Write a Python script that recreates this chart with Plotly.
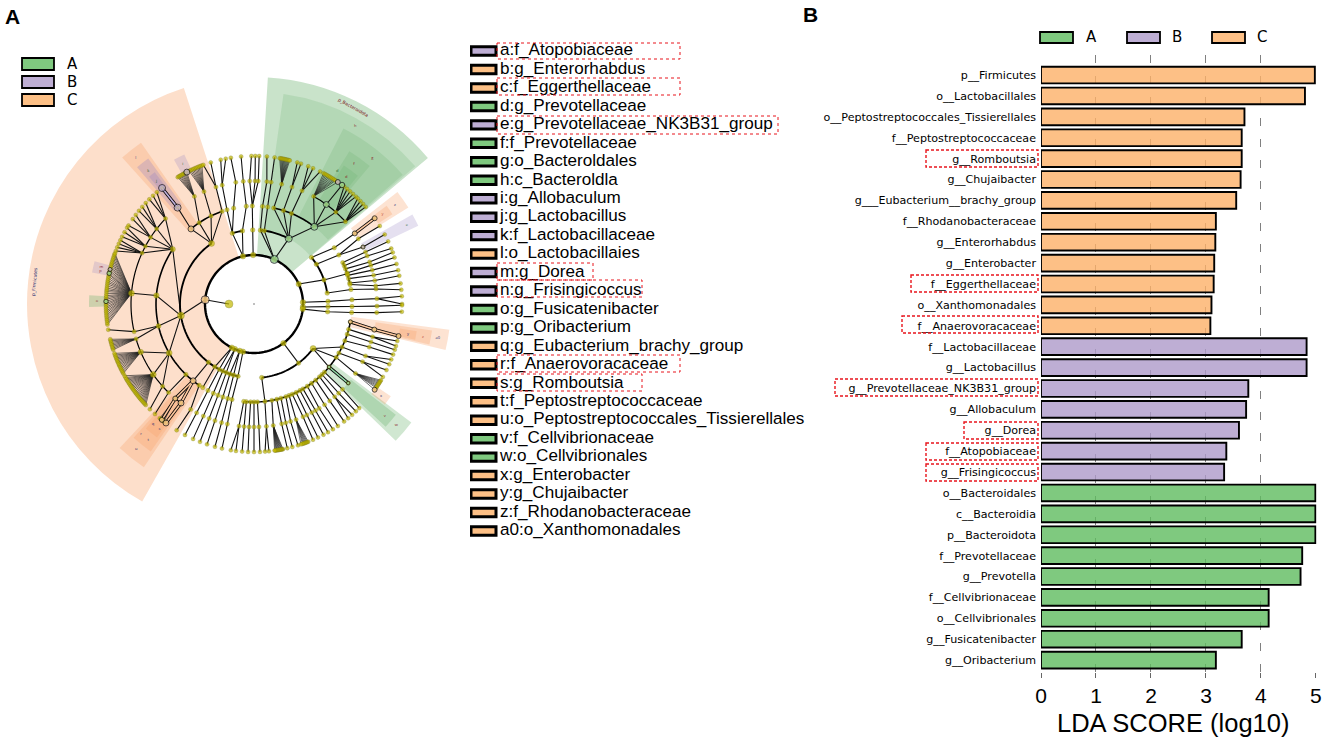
import numpy as np
import plotly.graph_objects as go

W, H = 1325, 741
COLORS = {"A": "#7fc97f", "B": "#beaed4", "C": "#fdc086"}
NODE_HL = {"A": "#93d8a6", "B": "#c3b3e0", "C": "#ffc9a0"}

# ---------- LDA bars ----------
bar_labels = ["p__Firmicutes", "o__Lactobacillales", "o__Peptostreptococcales_Tissierellales",
              "f__Peptostreptococcaceae", "g__Romboutsia", "g__Chujaibacter",
              "g___Eubacterium__brachy_group", "f__Rhodanobacteraceae", "g__Enterorhabdus",
              "g__Enterobacter", "f__Eggerthellaceae", "o__Xanthomonadales", "f__Anaerovoracaceae",
              "f__Lactobacillaceae", "g__Lactobacillus", "g__Prevotellaceae_NK3B31_group",
              "g__Allobaculum", "g__Dorea", "f__Atopobiaceae", "g__Frisingicoccus",
              "o__Bacteroidales", "c__Bacteroidia", "p__Bacteroidota", "f__Prevotellaceae",
              "g__Prevotella", "f__Cellvibrionaceae", "o__Cellvibrionales",
              "g__Fusicatenibacter", "g__Oribacterium"]
bar_values = [4.98, 4.80, 3.70, 3.65, 3.65, 3.63, 3.55, 3.18, 3.17, 3.15, 3.14, 3.10, 3.08,
              4.83, 4.83, 3.77, 3.73, 3.60, 3.37, 3.33,
              4.99, 4.99, 4.99, 4.75, 4.72, 4.14, 4.14, 3.65, 3.18]
bar_groups = ["C"] * 13 + ["B"] * 7 + ["A"] * 9
x_ticks = [0, 1, 2, 3, 4, 5]

# ---------- taxa key ----------
key_labels = ["a:f_Atopobiaceae", "b:g_Enterorhabdus", "c:f_Eggerthellaceae", "d:g_Prevotellaceae",
              "e:g_Prevotellaceae_NK3B31_group", "f:f_Prevotellaceae", "g:o_Bacteroldales",
              "h:c_Bacteroldla", "i:g_Allobaculum", "j:g_Lactobacillus", "k:f_Lactobacillaceae",
              "l:o_Lactobacillaies", "m:g_Dorea", "n:g_Frisingicoccus", "o:g_Fusicatenibacter",
              "p:g_Oribacterium", "q:g_Eubacterium_brachy_group", "r:f_Anaerovoracaceae",
              "s:g_Romboutsia", "t:f_Peptostreptococcaceae",
              "u:o_Peptostreptococcales_Tissierellales", "v:f_Cellvibrionaceae",
              "w:o_Cellvibrionales", "x:g_Enterobacter", "y:g_Chujaibacter",
              "z:f_Rhodanobacteraceae", "a0:o_Xanthomonadales"]
key_groups = list("BCCABAAABBBCBBAACCCCCAACCCC")

# ---------- cladogram: levels and tree, angles in degrees clockwise from north ----------
level_radius = {1: 25, 2: 49, 3: 74, 4: 98, 5: 123, 6: 148}
level_node_size = {1: 8, 2: 5.5, 3: 4.6, 4: 4.4, 5: 4.2, 6: 4}

# (first level, angles at successive levels)
chains = [
    (1, [270, 275]), (2, [275, 261]),
    # north
    (2, [359, 359, 359, 0.5, 0.5]), (4, [359, 358, 359]), (4, [359, 2, 2]),
    (2, [347, 351, 355.5, 355, 355]), (2, [347, 343, 348, 351.5, 351]),
    (3, [343, 344, 345, 347]), (5, [345, 349]),
    # orange, upper
    (3, [325, 326, 331]), (3, [325, 320, 321.6, 321.6]), (3, [325, 334, 336]),
    (3, [325, 341, 342, 343]), (5, [342, 340]),
    (3, [261, 304, 294.5]), (4, [304, 298]), (4, [304, 302.8]), (4, [304, 307.7]), (4, [304, 314]),
    (5, [314, 315]), (5, [314, 317]), (5, [314, 319]),
    (5, [307.7, 309]), (5, [307.7, 311]), (5, [307.7, 313]),
    (5, [302.8, 302]), (5, [302.8, 305]), (5, [302.8, 307]),
    (5, [298, 297]), (5, [298, 299]), (5, [298, 301]),
    (5, [294.5, 291]), (5, [294.5, 292.5]), (5, [294.5, 294]), (5, [294.5, 295.5]),
    # orange, left
    (3, [261, 275, 275]), (3, [261, 257, 257, 260]), (3, [261, 240, 247]),
    (4, [257, 253.5]), (4, [240, 235]), (4, [240, 228, 224.7]), (4, [224, 224, 222]),
    (3, [218, 218.4, 216.4, 216.5]), (4, [218.4, 219.8, 218.5]), (4, [214, 211, 211.5]),
    # green
    (2, [24.5, 5, 5, 6, 5]), (2, [24.5, 8, 8, 8, 8]),
    (2, [24.5, 28, 11.6, 13]), (3, [28, 17.5, 18, 17]), (5, [18, 18.5]),
    (3, [28, 22.5, 23, 21.5]), (5, [23, 23.5]), (5, [23, 26.5]),
    (3, [28, 38, 29]), (4, [38, 36, 36.5]), (4, [38, 41.7]), (4, [38, 48]),
    (5, [41.7, 37.5]), (5, [41.7, 39]), (5, [41.7, 40.5]), (5, [41.7, 42]), (5, [41.7, 43.5]),
    (5, [48, 44.5]), (5, [48, 46]), (5, [48, 47.5]), (5, [48, 49]),
    # right, upper
    (2, [66, 71, 72]), (3, [51, 55, 55, 54.6]), (3, [57.5, 60, 62.4, 62]), (4, [60, 58, 58.2]),
    (4, [65, 65, 65]), (4, [67, 67, 68]), (4, [69, 70, 69.6]), (4, [71.5, 71.7, 71.7]),
    (4, [73, 74, 74.3]), (4, [75, 76.5, 76.8]), (4, [77.6, 79, 79]), (4, [78.5, 81.5, 82]),
    (3, [81.5, 81.5, 83, 84.5]),
    # right
    (2, [88, 88, 87.5, 87.5, 87]), (5, [87.5, 90]),
    (2, [93.5, 92, 91.5, 91, 90.5]), (2, [96, 96, 95, 94, 93]),
    # bottom right
    (2, [143, 143]), (3, [127, 123, 124.4]), (3, [127, 130, 130]), (3, [127, 116, 115, 112]),
    (5, [115, 114]), (3, [174, 173.6, 174.2, 174.2]), (5, [174.2, 175.7]),
    (4, [100.5, 102, 102.5]), (4, [105, 105.5, 104.5]), (5, [105.5, 106.5]), (4, [108, 108, 108]),
    (4, [112, 110.5, 110]), (4, [120, 118, 116.5]), (5, [118, 119.5]),
    (4, [134, 134, 134.7]), (4, [136, 136.5, 136.5]), (4, [138, 139, 138.5]), (5, [139, 140.5]),
    (4, [141, 142, 142.5]), (4, [144, 145, 145.5]), (4, [147, 148, 147.8]), (4, [150, 150, 150]),
    (4, [152, 152, 152]), (4, [154.5, 154.5, 154.4]), (4, [157, 156.5, 156.5]), (4, [159, 160]),
    (4, [161, 162.7, 162.7]), (4, [164, 165, 165]), (4, [166.5, 167, 167]), (4, [169.5, 171]),
    (4, [178, 177.7, 177.7]), (4, [180, 180, 180]), (4, [182, 182.3, 182.3]),
    (4, [184.5, 184.6, 184.6]), (4, [186, 187, 187]), (5, [187, 189]),
    # bottom left
    (2, [193, 192.5, 193, 192.5, 192.5]), (2, [197, 196, 195.5, 195.3, 195.3]),
    (2, [197, 199, 198.5, 198.5, 198.5]), (2, [203, 202, 201.5, 201.4, 201.4]),
    (2, [203, 205, 204.5, 204.3, 204.3]), (2, [207, 208, 208, 207.8, 207.8]),
    (2, [207, 212, 211.5]),
]

# (parent level, parent angle, child angles)
fans = [
    (5, 13, [10, 10.4, 10.8, 11.2, 11.6, 12, 12.4, 12.8, 13.2, 13.6, 14]),
    (5, 29, [28, 28.6, 29.2, 29.8, 30.4, 31, 31.6, 32.2, 32.8, 33.4, 34.5]),
    (5, 331, [329, 329.5, 330, 330.5, 331, 331.5, 332, 332.5, 333]),
    (5, 336, [334, 334.6, 335.2, 335.8, 336.4, 337, 337.6, 338.2, 338.8, 339.4]),
    (5, 275, [262, 262.7, 263.5, 264.2, 265, 265.7, 266.5, 267.2, 268, 268.7, 269.5, 270.2,
              271, 271.8, 272.5, 273.2, 274, 274.8, 275.5, 276.2, 277, 277.8, 278.5, 279.2,
              280, 280.8, 281.5, 282, 282.8, 283.5, 284.3, 285, 285.8, 286.5, 287.3, 288,
              288.8, 289.5, 290]),
    (5, 253.5, [252, 252.6, 253.2, 253.8, 254.4, 255, 255.6, 256.2]),
    (5, 247, [242, 242.6, 243.2, 243.8, 244.4, 245, 245.6, 246.2, 246.8, 247.4, 248, 248.6,
              249.2, 249.8, 250.5]),
    (5, 235, [227, 227.6, 228.2, 228.8, 229.4, 230, 230.6, 231.2, 231.8, 232.4, 233, 233.6,
              234.2, 234.8, 235.4, 236, 236.6, 237.2, 237.8, 238.4, 239, 239.6, 240.2, 241]),
    (5, 219.8, [217.5, 217.9, 218.3, 218.7, 219.1, 219.5]),
    (5, 124.4, [121, 121.5, 122, 122.5, 123, 123.5, 124, 124.5, 125.4]),
    (5, 160, [158.5, 158.9, 159.3, 159.7, 160.1, 160.5, 160.9, 161.5]),
    (5, 171, [168.7, 169, 169.3, 169.6, 169.9, 170.2, 170.5, 170.8, 171.1, 171.4, 171.7, 172]),
]

# (level, start, end)
arcs = [
    (3, 127, 174), (3, 51, 81.5), (3, 212, 325), (3, 343, 351), (3, 5, 28), (3, 192.5, 212),
    (4, 100.5, 186), (4, 65, 78.5), (4, 214, 304), (4, 320, 341), (4, 11.6, 38),
    (5, 29, 48), (5, 224, 253.5), (5, 257, 294.5), (5, 294.5, 314), (5, 216.4, 219.8),
]

# (level, angle, size) for nodes larger than usual
large_nodes = [(3, 261, 7), (4, 275, 5.5), (5, 275, 6), (3, 325, 6), (4, 257, 5), (4, 240, 6),
               (5, 235, 6), (3, 127, 6), (2, 143, 5.5), (5, 247, 5.5), (4, 304, 5.2)]

# (level, angle, group, size) for enriched taxa
enriched_nodes = [
    (2, 24.5, "A", 8), (3, 28, "A", 7), (4, 38, "A", 7), (5, 36, "A", 6), (6, 36.5, "A", 5.5),
    (4, 130, "A", 3.5), (5, 130, "A", 3.5), (6, 282, "A", 4.5), (6, 271, "A", 4.5),
    (5, 321.6, "B", 7), (6, 321.6, "B", 7), (6, 333, "B", 6), (6, 34.5, "B", 5),
    (6, 283.5, "B", 4), (5, 62.4, "B", 4),
    (2, 275, "C", 8), (4, 320, "C", 6), (4, 218.4, "C", 6), (5, 216.4, "C", 6), (5, 219.8, "C", 5),
    (6, 216.5, "C", 6), (6, 218.5, "C", 5), (4, 100.5, "C", 4), (5, 102, "C", 5), (6, 102.5, "C", 5),
    (6, 125.4, "C", 5), (5, 55, "C", 5), (6, 54.6, "C", 5),
]

# (parent level, parent angle, child angle, group) for coloured branches
enriched_links = [
    (5, 321.6, 321.6, "B"), (4, 218.4, 216.4, "C"), (4, 218.4, 219.8, "C"), (5, 216.4, 216.5, "C"),
    (5, 219.8, 218.5, "C"), (4, 130, 130, "A"), (4, 100.5, 102, "C"), (5, 102, 102.5, "C"),
    (5, 55, 54.6, "C"),
]

sector_group = ["C", "A", "A", "A", "A", "A", "C", "B", "B", "B", "C", "C", "B", "C", "C", "C",
                "A", "A", "C", "C", "C", "A", "B", "C"]
sector_start = [209.5, 3.5, 8, 27, 32, 33, 318, 319.5, 320.5, 331, 52, 53.5, 60.5, 97.5, 98.5, 99.5,
                127, 128, 214, 215, 216, 269, 281, 124]
sector_end = [342, 50, 49.5, 49, 40, 39, 325, 324, 323, 335, 58, 57, 64.5, 103.5, 103, 102.5,
              134, 133, 223, 222, 221, 273, 285, 127.5]
sector_inner = [49, 49, 74, 98, 123, 148, 98, 123, 148, 148, 123, 148, 123, 98, 123, 148,
                98, 123, 98, 123, 148, 148, 148, 148]
sector_outer = [227, 227, 212, 197, 180, 165, 197, 180, 165, 165, 182, 165, 182, 197, 180, 165,
                197, 180, 197, 180, 165, 165, 165, 165]
sector_alpha = [.35, .35, .2, .2, .2, .2, .3, .3, .3, .25, .3, .3, .25, .3, .3, .3,
                .3, .3, .3, .3, .3, .3, .25, .3]

# tiny labels inside the sectors: (radius, angle, text, colour)
tiny_labels = [
    (205, 29.6, "h", "#8a1c2a"), (188, 39, "g", "#8a1c2a"), (172, 35.5, "f", "#8a1c2a"),
    (157, 32, "d", "#1d5c2a"), (157, 36, "d", "#8a1c2a"),
    (188, 321, "l", "#333a80"), (170, 321.6, "k", "#1d5c2a"), (157, 321.6, "j", "#1d5c2a"),
    (157, 333, "i", "#1d5c2a"), (172, 55, "z", "#333a80"), (157, 55, "y", "#c05040"),
    (172, 62.7, "e", "#1d5c2a"), (187, 100.5, "a0", "#1d2a70"), (172, 101, "z", "#c05040"),
    (157, 101, "y", "#1d2a70"), (157, 126, "x", "#1d2a70"), (187, 130.5, "w", "#8a1c2a"),
    (172, 130.5, "v", "#8a1c2a"), (187, 219, "u", "#1d2a70"), (172, 218, "t", "#1d2a70"),
    (172, 221, "r", "#1d2a70"), (157, 217, "s", "#1d2a70"), (157, 220, "q", "#1d2a70"),
    (157, 271, "o", "#8a1c2a"), (157, 282, "p", "#8a1c2a"), (157, 283.5, "m", "#8a1c2a"),
]


def px(x):
    return x / W


def py(y):
    return 1 - y / H


def R(level):
    return level_radius[level]


fig = go.Figure()

# sectors ---------------------------------------------------------------------
rgb = {"A": "100,175,104", "B": "150,130,195", "C": "249,163,106"}
fig.add_trace(go.Barpolar(
    r=[o - i for o, i in zip(sector_outer, sector_inner)],
    base=sector_inner,
    theta=[(a + b) / 2 for a, b in zip(sector_start, sector_end)],
    width=[b - a for a, b in zip(sector_start, sector_end)],
    marker=dict(color=[f"rgba({rgb[g]},{al})" for g, al in zip(sector_group, sector_alpha)],
                line=dict(width=0)),
    hoverinfo="skip", showlegend=False))

# branches --------------------------------------------------------------------
nodes = {(1, 270), (2, 275)}
cr, ct = [], []
for start, thetas in chains:
    for i, th in enumerate(thetas):
        lev = start + i
        cr.append(R(lev))
        ct.append(th)
        nodes.add((lev, th))
    cr.append(None)
    ct.append(None)
fig.add_trace(go.Scatterpolar(r=cr, theta=ct, mode="lines", line=dict(color="#111", width=1.1),
                              hoverinfo="skip", showlegend=False))

fr, ft = [], []
for lev, parent, kids in fans:
    nodes.add((lev, parent))
    for k in kids:
        fr += [R(lev), R(lev + 1), None]
        ft += [parent, k, None]
        nodes.add((lev + 1, k))
fig.add_trace(go.Scatterpolar(r=fr, theta=ft, mode="lines", line=dict(color="#222", width=0.65),
                              hoverinfo="skip", showlegend=False))

# arcs, thicker toward the centre
fig.add_trace(go.Scatterpolar(
    r=np.full(181, R(2)), theta=np.linspace(0, 360, 181), mode="lines",
    line=dict(color="#000", width=2.4), hoverinfo="skip", showlegend=False))
for lev, width in [(3, 1.9), (4, 1.6), (5, 1.2)]:
    ar, at = [], []
    for l, a, b in arcs:
        if l != lev:
            continue
        n = max(2, int(abs(b - a) / 2) + 2)
        at += list(np.linspace(a, b, n)) + [None]
        ar += [R(l)] * n + [None]
    fig.add_trace(go.Scatterpolar(r=ar, theta=at, mode="lines", line=dict(color="#000", width=width),
                                  hoverinfo="skip", showlegend=False))

# coloured branches
for g in "ABC":
    links = [k for k in enriched_links if k[3] == g]
    lr, lt = [], []
    for lev, a, b, _ in links:
        lr += [R(lev), R(lev + 1), None]
        lt += [a, b, None]
    fig.add_trace(go.Scatterpolar(r=lr, theta=lt, mode="lines", line=dict(color="#000", width=3.2),
                                  hoverinfo="skip", showlegend=False))
    fig.add_trace(go.Scatterpolar(r=lr, theta=lt, mode="lines", line=dict(color=NODE_HL[g], width=1.6),
                                  hoverinfo="skip", showlegend=False))

# nodes
sizes = {(l, a): s for l, a, s in large_nodes}
plain = sorted(nodes | set(sizes))
fig.add_trace(go.Scatterpolar(
    r=[R(l) for l, a in plain], theta=[a for l, a in plain], mode="markers",
    marker=dict(color="#c2b800", size=[sizes.get((l, a), level_node_size[l]) for l, a in plain],
                line=dict(color="#6a6a10", width=0.4)),
    hoverinfo="skip", showlegend=False))
fig.add_trace(go.Scatterpolar(
    r=[R(l) for l, a, g, s in enriched_nodes], theta=[a for l, a, g, s in enriched_nodes],
    mode="markers",
    marker=dict(color=[NODE_HL[g] for l, a, g, s in enriched_nodes],
                size=[s for l, a, g, s in enriched_nodes], line=dict(color="#111", width=1)),
    hoverinfo="skip", showlegend=False))
fig.add_trace(go.Scatterpolar(r=[0], theta=[0], mode="markers",
                              marker=dict(color="#aaa", size=2), hoverinfo="skip", showlegend=False))
fig.add_trace(go.Scatterpolar(
    r=[t[0] for t in tiny_labels], theta=[t[1] for t in tiny_labels], mode="text",
    text=[t[2] for t in tiny_labels], textfont=dict(size=4, color=[t[3] for t in tiny_labels]),
    hoverinfo="skip", showlegend=False))

# LDA bars --------------------------------------------------------------------
bar_fill = {"A": "rgba(95,188,95,0.8)", "B": "rgba(174,154,201,0.8)", "C": "rgba(252,176,104,0.8)"}
fig.add_trace(go.Bar(x=bar_values, y=bar_labels, orientation="h", width=0.8,
                     marker=dict(color=[bar_fill[g] for g in bar_groups], line=dict(color="#000", width=1.9)),
                     hoverinfo="skip", showlegend=False, xaxis="x", yaxis="y"))

# taxa key --------------------------------------------------------------------
rows = list(range(len(key_labels)))
fig.add_trace(go.Bar(x=[25] * len(rows), y=rows, orientation="h", width=0.46,
                     marker=dict(color=[COLORS[g] for g in key_groups], line=dict(color="#000", width=3)),
                     hoverinfo="skip", showlegend=False, xaxis="x2", yaxis="y2"))
fig.add_trace(go.Scatter(x=[29] * len(rows), y=rows, mode="text", text=key_labels,
                         textposition="middle right",
                         textfont=dict(family="Liberation Sans", size=17.1, color="#000"),
                         hoverinfo="skip", showlegend=False, xaxis="x2", yaxis="y2"))

# boxes -----------------------------------------------------------------------
shapes = []


def box(x0, y0, x1, y1, **kw):
    shapes.append(dict(type="rect", xref="paper", yref="paper", x0=px(x0), x1=px(x1), y0=py(y0), y1=py(y1), **kw))


for (x0, y0, x1, y1) in [(926, 150, 1038, 167), (911, 275, 1038, 292), (902, 316, 1038, 333), (835, 379, 1038, 396),
                         (964, 422, 1038, 439), (926, 443, 1038, 460), (926, 464, 1038, 481)]:
    box(x0, y0, x1, y1, line=dict(color="#e8141c", width=1.4, dash="3px,2px"))
for (x0, y0, x1, y1) in [(497, 43, 680, 59), (497, 78, 680, 95), (497, 116, 778, 134), (497, 263, 593, 280),
                         (497, 280, 642, 297), (497, 355, 680, 372), (497, 374, 642, 391)]:
    box(x0, y0, x1, y1, line=dict(color="#e8141c", width=1, dash="dot"))

annos = []


def label(x, y, text, size, **kw):
    annos.append(dict(xref="paper", yref="paper", x=px(x), y=py(y), text=text, showarrow=False,
                      xanchor="center", yanchor="middle",
                      font=dict(size=size, family=kw.pop("family", "DejaVu Sans"), color=kw.pop("color", "#000"),
                                weight=kw.pop("weight", "normal")),
                      **kw))


for (g, y0) in zip("ABC", [58, 76, 94]):
    box(22, y0, 54, y0 + 12, fillcolor=COLORS[g], line=dict(color="#000", width=1.8))
    label(72, y0 + 6, g, 15)
for (g, x0, tx) in zip("ABC", [1040, 1127, 1212], [1091, 1177, 1262]):
    box(x0, 32, x0 + 33, 43, fillcolor=COLORS[g], line=dict(color="#000", width=1.8))
    label(tx, 37, g, 15)
label(12, 17, "A", 21, family="Liberation Sans", weight="bold")
label(811, 15, "B", 21, family="Liberation Sans", weight="bold")
label(353, 108, "p_Bacteroidota", 4.5, color="#7a1020", textangle=29)
label(35, 282, "p_Firmicutes", 4.5, color="#1d2a70", textangle=-85)
label(1172.5, 723, "LDA SCORE (log10)", 25.5, family="Liberation Sans")

CX, CY, RR = 254, 304, 232
fig.update_layout(
    width=W, height=H, margin=dict(l=0, r=0, t=0, b=0, autoexpand=False), paper_bgcolor="white",
    plot_bgcolor="rgba(0,0,0,0)",
    showlegend=False, shapes=shapes, annotations=annos, barmode="overlay",
    polar=dict(
        domain=dict(x=[px(CX - RR), px(CX + RR)], y=[py(CY + RR), py(CY - RR)]),
        bgcolor="rgba(0,0,0,0)", barmode="overlay",
        radialaxis=dict(visible=False, range=[0, RR]),
        angularaxis=dict(visible=False, rotation=90, direction="clockwise"),
    ),
    xaxis=dict(domain=[px(1041), px(1316.5)], range=[0, 5.01], tickvals=x_ticks, showline=False, zeroline=False,
               showgrid=True, gridcolor="#808080", griddash="8px,13px", gridwidth=1.2,
               ticks="outside", ticklen=5, tickcolor="#666", tickwidth=1.2,
               tickfont=dict(family="Liberation Sans", size=21, color="#000"),
               anchor="y"),
    yaxis=dict(domain=[py(672), py(55)], type="category", categoryorder="array", categoryarray=bar_labels,
               range=[28.57, -0.96], showline=False, showgrid=False, zeroline=False, ticks="",
               tickmode="array", tickvals=bar_labels, ticktext=bar_labels, ticklabelstandoff=4,
               tickfont=dict(family="DejaVu Sans", size=11.1, color="#000"), anchor="x", automargin=False),
    xaxis2=dict(domain=[px(470), px(812)], range=[-1, 341], visible=False, anchor="y2", fixedrange=True),
    yaxis2=dict(domain=[py(540), py(42)], range=[26.49, -0.49], visible=False, anchor="x2", fixedrange=True),
)
fig.write_html("out.html", config=dict(displayModeBar=False),
               post_script="document.body.style.margin='0';")
